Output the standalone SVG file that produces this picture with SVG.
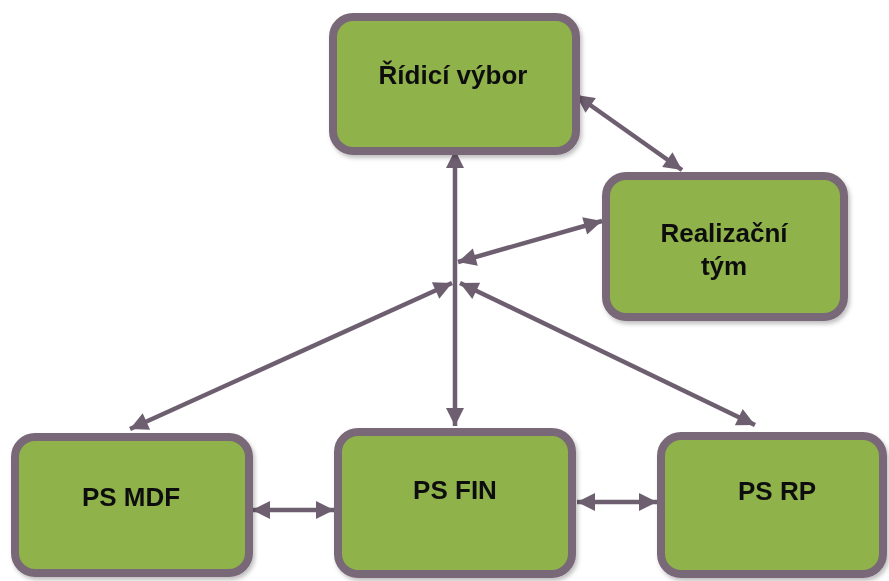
<svg xmlns="http://www.w3.org/2000/svg" width="889" height="581" viewBox="0 0 889 581">
  <style>
    .box { fill: #8fb24b; stroke: #786878; stroke-width: 8; }
    .lbl { font-family: "Liberation Sans", Arial, sans-serif; font-weight: bold; font-size: 26px; fill: #111; text-anchor: middle; }
    .con { stroke: #6e5f70; stroke-width: 4.5; fill: none; marker-start: url(#ah); marker-end: url(#ah); }
  </style>
  <defs>
    <marker id="ah" viewBox="0 0 10 10" refX="10" refY="5" markerWidth="4.4" markerHeight="4" orient="auto-start-reverse">
      <path d="M0,0 L10,5 L0,10 Z" fill="#6e5f70"/>
    </marker>
    <filter id="sh" x="-10%" y="-10%" width="120%" height="130%">
      <feDropShadow dx="2" dy="3" stdDeviation="2" flood-color="#000" flood-opacity="0.25"/>
    </filter>
  </defs>
  <rect width="889" height="581" fill="#ffffff"/>

  <g id="connectors">
    <line class="con" x1="455" y1="150" x2="455" y2="426"/>
    <line class="con" x1="576" y1="95" x2="682" y2="170"/>
    <line class="con" x1="602" y1="221" x2="458" y2="262"/>
    <line class="con" x1="452" y1="283" x2="130" y2="429"/>
    <line class="con" x1="460" y1="283" x2="755" y2="425"/>
    <line class="con" x1="252" y1="510" x2="334" y2="510"/>
    <line class="con" x1="577" y1="502" x2="657" y2="502"/>
  </g>

  <g id="ridici-vybor" filter="url(#sh)">
    <rect class="box" x="333" y="17" width="243" height="134" rx="20"/>
    <text class="lbl" x="453" y="84">Řídicí výbor</text>
  </g>
  <g id="realizacni-tym" filter="url(#sh)">
    <rect class="box" x="606" y="176" width="238" height="141" rx="20"/>
    <text class="lbl" x="724" y="242">Realizační</text>
    <text class="lbl" x="724" y="275">tým</text>
  </g>
  <g id="ps-mdf" filter="url(#sh)">
    <rect class="box" x="15" y="437" width="234" height="136" rx="20"/>
    <text class="lbl" x="131" y="506">PS MDF</text>
  </g>
  <g id="ps-fin" filter="url(#sh)">
    <rect class="box" x="338" y="432" width="234" height="142" rx="20"/>
    <text class="lbl" x="455" y="499">PS FIN</text>
  </g>
  <g id="ps-rp" filter="url(#sh)">
    <rect class="box" x="661" y="436" width="222" height="138" rx="20"/>
    <text class="lbl" x="777" y="500">PS RP</text>
  </g>
</svg>
